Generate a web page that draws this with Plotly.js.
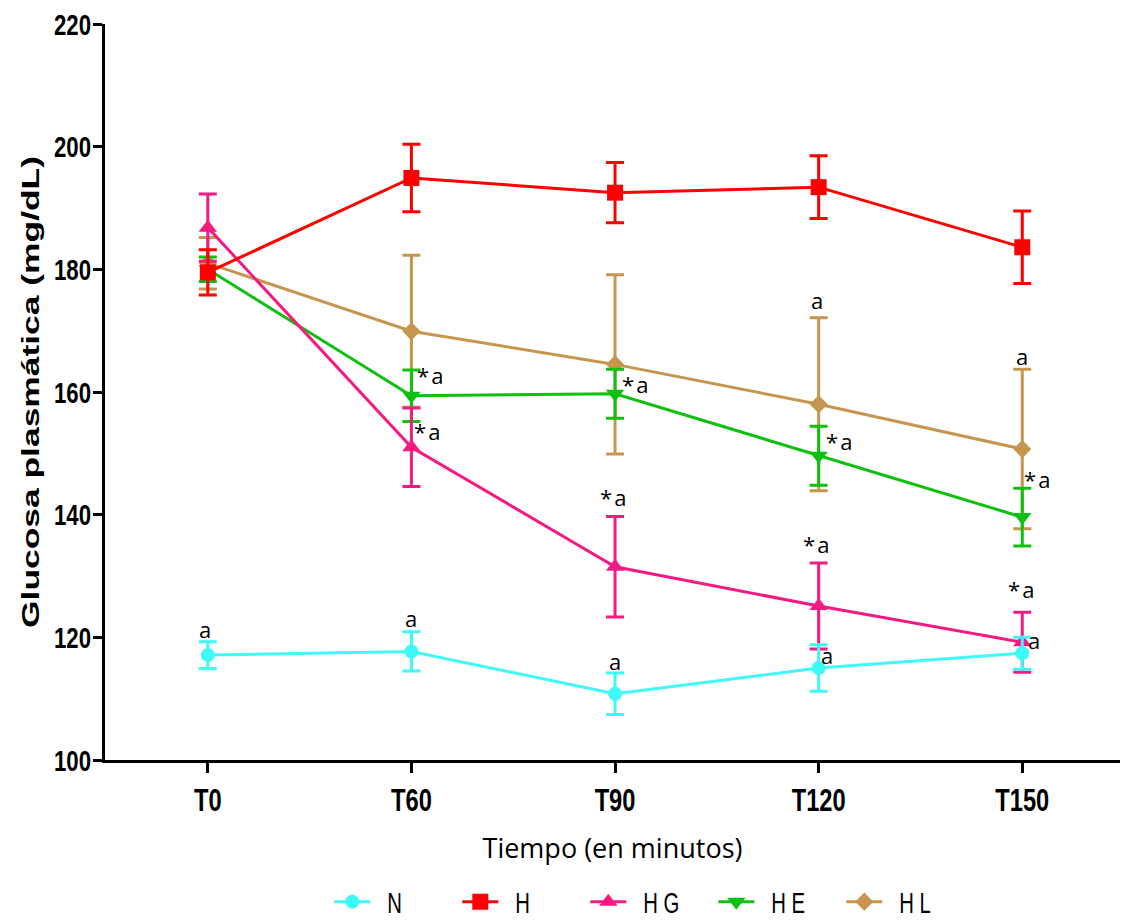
<!DOCTYPE html>
<html>
<head>
<meta charset="utf-8">
<script src="https://cdn.plot.ly/plotly-3.0.1.min.js"></script>
<style>html,body{margin:0;padding:0;background:#fff;overflow:hidden;}#chart{width:1122px;height:922px;}</style>
</head>
<body>
<div id="chart"></div>
<script>
const categories = ["T0", "T60", "T90", "T120", "T150"];

const seriesNames = ["N", "H", "HG", "HE", "HL"];
const legendLabels = ["N", "H", "H G", "H E", "H L"];

const N_mean  = [117.1, 117.7, 110.8, 115.0, 117.4];
const N_err   = [2.2, 3.2, 3.4, 3.8, 2.6];
const H_mean  = [179.5, 194.9, 192.5, 193.4, 183.6];
const H_err   = [3.7, 5.5, 4.9, 5.1, 5.9];
const HG_mean = [186.8, 151.0, 131.5, 125.1, 119.2];
const HG_err  = [5.5, 6.4, 8.2, 7.0, 4.9];
const HE_mean = [180.0, 159.4, 159.7, 149.6, 139.6];
const HE_err  = [2.0, 4.2, 4.0, 4.8, 4.7];
const HL_mean = [181.0, 169.9, 164.5, 158.0, 150.7];
const HL_err  = [4.2, 12.4, 14.6, 14.1, 13.0];

// significance labels: [series, category index, text]
const sigLabels = [
  ["N", 0, "a"], ["N", 1, "a"], ["N", 2, "a"], ["N", 3, "a"], ["N", 4, "a"],
  ["HG", 1, "*a"], ["HG", 2, "*a"], ["HG", 3, "*a"], ["HG", 4, "*a"],
  ["HE", 1, "*a"], ["HE", 2, "*a"], ["HE", 3, "*a"], ["HE", 4, "*a"],
  ["HL", 3, "a"], ["HL", 4, "a"]
];
// pixel placement of each label relative to its point (style only)
const labelShift = [
  [-3, 26], [0, 33], [0, 33], [8, 13], [12, 13],
  [16, 16], [-2, 70], [-2, 62], [-1, 53],
  [19, 21], [20, 10], [21, 15], [15, 38],
  [-2, 104], [0, 93]
];

const means = {N: N_mean, H: H_mean, HG: HG_mean, HE: HE_mean, HL: HL_mean};
const errs  = {N: N_err, H: H_err, HG: HG_err, HE: HE_err, HL: HL_err};
const colors = {N: "#3ff8f8", H: "#ff0000", HG: "#f51a82", HE: "#10c010", HL: "#c6964f"};
const symbols = {N: "circle", H: "square", HG: "triangle-up", HE: "triangle-down", HL: "diamond"};
const sizes = {N: 14, H: 16, HG: 16, HE: 16, HL: 14};
const drawOrder = ["HL", "HE", "HG", "N", "H"];

const traces = drawOrder.map(function (s) {
  const idx = seriesNames.indexOf(s);
  return {
    type: "scatter",
    mode: "lines+markers",
    name: legendLabels[idx],
    legendrank: idx + 1,
    x: categories,
    y: means[s],
    line: {color: colors[s], width: 3},
    marker: {color: colors[s], symbol: symbols[s], size: sizes[s]},
    error_y: {type: "data", array: errs[s], visible: true, color: colors[s], thickness: 3, width: 9},
    cliponaxis: false
  };
});

const annotations = sigLabels.map(function (l, i) {
  const s = l[0], k = l[1];
  return {
    x: categories[k], y: means[s][k], xref: "x", yref: "y",
    text: l[2].replace("*", "*&#8202;"), showarrow: false,
    xshift: labelShift[i][0], yshift: labelShift[i][1],
    xanchor: "center", yanchor: "middle",
    font: {family: "Open Sans, sans-serif", size: 22, color: "#000"}
  };
});

const layout = {
  width: 1122, height: 922,
  margin: {l: 105, r: 2, t: 24, b: 162, autoexpand: false},
  paper_bgcolor: "#fff", plot_bgcolor: "#fff",
  showlegend: true,
  legend: {
    orientation: "h", x: 0.221, xanchor: "left", y: -0.158, yanchor: "top",
    font: {family: "Liberation Sans, Arial, sans-serif", size: 29, color: "#000"},
    itemwidth: 36, traceorder: "normal", entrywidth: 77
  },
  xaxis: {
    type: "category", range: [-0.505, 4.48],
    showline: true, linecolor: "#000", linewidth: 3,
    ticks: "outside", ticklen: 10, tickwidth: 3, tickcolor: "#000",
    showgrid: false, zeroline: false,
    tickfont: {family: "Liberation Sans, Arial, sans-serif", size: 32, color: "#000", weight: "bold"},
    title: {text: "Tiempo (en minutos)", standoff: 22,
      font: {family: "Open Sans, sans-serif", size: 27, color: "#000"}}
  },
  yaxis: {
    range: [100, 220], tickvals: [100, 120, 140, 160, 180, 200, 220],
    showline: true, linecolor: "#000", linewidth: 3,
    ticks: "outside", ticklen: 9, tickwidth: 3, tickcolor: "#000",
    showgrid: false, zeroline: false,
    tickfont: {family: "Liberation Sans, Arial, sans-serif", size: 30, color: "#000", weight: "bold"},
    title: {text: "Glucosa plasmática (mg/dL)", standoff: 0,
      font: {family: "Liberation Sans, Arial, sans-serif", size: 24, color: "#000", weight: "bold"}}
  },
  annotations: annotations
};

function condense(selector, factor, fixedLen, dx) {
  document.querySelectorAll(selector).forEach(function (t) {
    const w = t.getComputedTextLength();
    t.setAttribute("textLength", fixedLen ? fixedLen : w * factor);
    t.setAttribute("lengthAdjust", "spacingAndGlyphs");
    if (dx) {
      const old = t.getAttribute("transform") || "";
      t.setAttribute("transform", "translate(" + dx + ",0) " + old);
    }
  });
}

Plotly.newPlot("chart", traces, layout, {displayModeBar: false, staticPlot: true}).then(function () {
  condense("#chart .xtick text", 0.74);
  condense("#chart .ytick text", 0.74, 0, 4);
  condense("#chart .legendtext", 0.7, 0, 12);
  condense("#chart .ytitle", 1, 472, 9);
});
</script>
</body>
</html>
